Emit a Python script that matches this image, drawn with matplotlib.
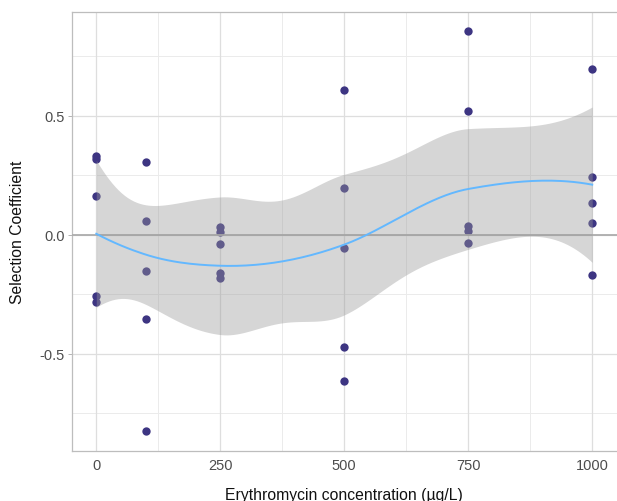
import numpy as np
import matplotlib
matplotlib.use("Agg")
import matplotlib.pyplot as plt

plt.rcParams['font.family'] = ['Liberation Sans', 'DejaVu Sans']

# Data
concentration = [0]*5 + [100]*5 + [250]*5 + [500]*5 + [750]*5 + [1000]*5
selection = [0.332, 0.319, 0.164, -0.256, -0.282,
             0.307, 0.059, -0.151, -0.353, -0.824,
             0.034, 0.011, -0.037, -0.160, -0.181,
             0.609, 0.197, -0.055, -0.471, -0.613,
             0.857, 0.520, 0.035, 0.016, -0.034,
             0.695, 0.245, 0.134, 0.050, -0.168]
x_ticks = [0, 250, 500, 750, 1000]
y_ticks = [-0.5, 0.0, 0.5]
y_tick_labels = ["-0.5", "0.0", "0.5"]


def local_rows(x, x0, span=0.75, degree=2):
    """Local quadratic (tricube) operator rows: value and slope at x0."""
    n = len(x)
    q = int(np.floor(n * span))
    d = np.abs(x - x0)
    h = np.sort(d)[q - 1]
    u = np.clip(d / h, 0, 1)
    w = (1 - u**3)**3
    X = np.vander(x - x0, degree + 1, increasing=True)
    XtW = X.T * w
    B = np.linalg.pinv(XtW @ X) @ XtW
    return B[0], B[1]


def loess_operator(x, xs, span=0.75):
    # fits at vertices (unique x), cubic Hermite interpolation between them
    verts = np.unique(x)
    rows = [local_rows(x, v, span) for v in verts]
    V = np.array([r[0] for r in rows])
    S = np.array([r[1] for r in rows])
    L = np.zeros((len(xs), len(x)))
    for k, xv in enumerate(xs):
        i = np.searchsorted(verts, xv, side='right') - 1
        i = min(max(i, 0), len(verts) - 2)
        h = verts[i + 1] - verts[i]
        t = (xv - verts[i]) / h
        L[k] = ((1 - t)**2 * (1 + 2 * t)) * V[i] + (t**2 * (3 - 2 * t)) * V[i + 1] \
            + (t * (1 - t)**2 * h) * S[i] + (-t**2 * (1 - t) * h) * S[i + 1]
    return L


def qt975(df):
    z = 1.959963985
    return (z + (z**3 + z) / (4 * df)
            + (5 * z**5 + 16 * z**3 + 3 * z) / (96 * df**2)
            + (3 * z**7 + 19 * z**5 + 17 * z**3 - 15 * z) / (384 * df**3))


x = np.array(concentration, float)
y = np.array(selection, float)
R = np.eye(len(x)) - loess_operator(x, x)
M = R.T @ R
one_delta = np.trace(M)
two_delta = np.trace(M @ M)
sigma = np.sqrt(np.sum((R @ y)**2) / one_delta)
df = one_delta**2 / two_delta
xs = np.linspace(x.min(), x.max(), 160)
Lg = loess_operator(x, xs)
fit = Lg @ y
se = sigma * np.sqrt(np.sum(Lg**2, axis=1))
tq = qt975(df)

fig = plt.figure(figsize=(6.17, 5.02), dpi=100)
ax = fig.add_axes([71.5/617, 1 - 452/502, 1 - 71.5/617, (452 - 12.5)/502])
ax.set_xlim(-50, 1050)
ax.set_ylim(-0.9085, 0.9385)

# grid
for v in [125, 375, 625, 875]:
    ax.axvline(v, color='#ebebeb', lw=0.7, zorder=0)
for v in [-0.75, -0.25, 0.25, 0.75]:
    ax.axhline(v, color='#ebebeb', lw=0.7, zorder=0)
for v in x_ticks:
    ax.axvline(v, color='#dedede', lw=0.9, zorder=0)
for v in y_ticks:
    ax.axhline(v, color='#dedede', lw=0.9, zorder=0)

ax.scatter(x, y, s=36, color='#3d3582', lw=0, zorder=2)
ax.axhline(0, color='#adadad', lw=1.3, zorder=3)
ax.fill_between(xs, fit - tq * se, fit + tq * se, color='#999999', alpha=0.4, lw=0, zorder=4)
ax.plot(xs, fit, color='#63B8FF', lw=1.4, zorder=5)

ax.set_xticks(x_ticks)
ax.set_xticklabels([str(v) for v in x_ticks])
ax.set_yticks(y_ticks)
ax.set_yticklabels(y_tick_labels)
ax.tick_params(axis='x', length=0, pad=5, labelsize=10.5, labelcolor='#4d4d4d')
ax.tick_params(axis='y', length=3, width=0.7, color='#b3b3b3', pad=2, labelsize=10.5, labelcolor='#4d4d4d')

for side in ['left', 'top', 'bottom']:
    ax.spines[side].set_color('#bdbdbd')
    ax.spines[side].set_linewidth(0.9)
ax.spines['right'].set_visible(False)

ax.set_xlabel('Erythromycin concentration (µg/L)', fontsize=11.3, color='#111111', labelpad=11)
ax.set_ylabel('Selection Coefficient', fontsize=11.3, color='#111111', labelpad=10)

fig.savefig('out.png', dpi=100)
